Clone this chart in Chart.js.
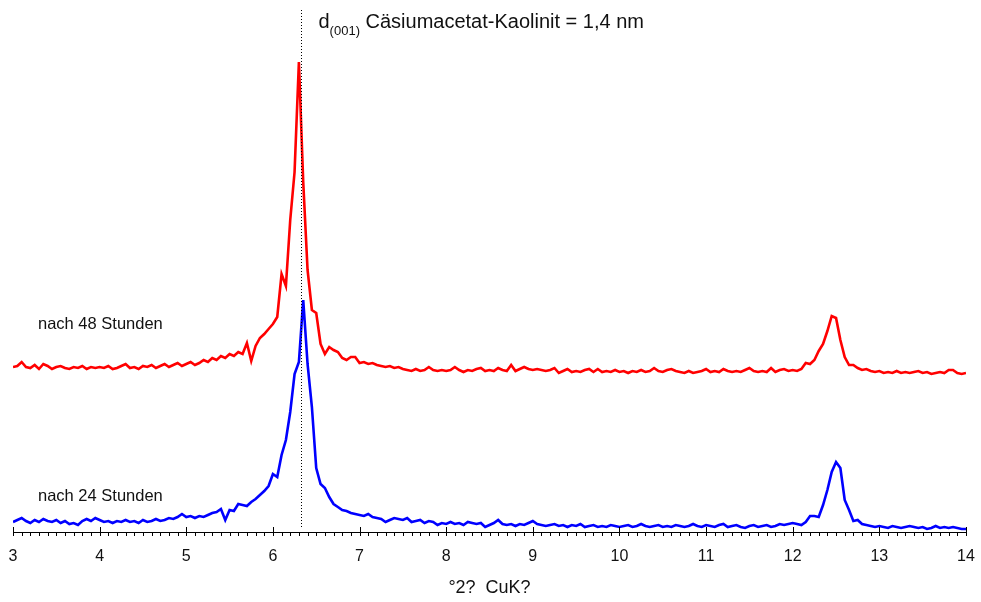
<!DOCTYPE html>
<html lang="de">
<head>
<meta charset="utf-8">
<title>Cäsiumacetat-Kaolinit</title>
<script src="https://cdn.jsdelivr.net/npm/chart.js@4.4.1/dist/chart.umd.min.js"></script>
<style>
  html, body { margin: 0; padding: 0; background: #fff; }
  canvas { display: block; }
</style>
</head>
<body>
<canvas id="xrd" width="981" height="602"></canvas>
<script>
// Messbereich 3-14 °2θ, Schrittweite 0,05
const twoTheta = Array.from({ length: 221 }, (_, i) => Math.round((3 + i * 0.05) * 100) / 100);

// Intensitäten inkl. Versatz, je Zeile ein halbes Grad (10 Schritte)
const after48h = [
  165, 166, 170, 165, 164, 167, 163, 168, 166, 163,
  165, 166, 164, 163, 165, 164, 166, 163, 165, 164,
  165, 164, 166, 163, 164, 166, 168, 164, 165, 163,
  166, 165, 167, 164, 166, 168, 165, 167, 169, 166,
  168, 170, 167, 169, 172, 170, 174, 172, 176, 174,
  178, 176, 180, 178, 189, 171, 186, 194, 198, 203,
  208, 215, 258, 246, 312, 360, 470, 350, 262, 222,
  219, 188, 178, 185, 182, 180, 174, 172, 175, 175,
  169, 170, 168, 169, 167, 166, 165, 166, 164, 165,
  163, 162, 161, 163, 161, 162, 165, 162, 161, 162,
  161, 162, 165, 162, 160, 162, 161, 163, 164, 161,
  162, 161, 164, 162, 161, 167, 161, 163, 165, 163,
  162, 163, 162, 161, 162, 164, 159, 161, 163, 160,
  161, 160, 162, 163, 160, 163, 160, 161, 160, 162,
  160, 161, 159, 161, 160, 162, 160, 161, 164, 161,
  160, 162, 163, 161, 160, 159, 161, 159, 160, 161,
  163, 160, 161, 160, 163, 161, 160, 161, 160, 162,
  164, 161, 160, 161, 160, 164, 160, 162, 163, 161,
  162, 161, 163, 169, 168, 172, 181, 188, 201, 216,
  214, 192, 175, 167, 167, 164, 162, 163, 161, 160,
  161, 159, 160, 159, 161, 159, 160, 159, 160, 161,
  159, 160, 158, 159, 160, 159, 162, 162, 159, 158,
  159
];

const after24h = [
  10, 12, 14, 11, 9, 12, 10, 13, 11, 10,
  12, 9, 11, 8, 9, 7, 11, 13, 11, 14,
  12, 10, 11, 9, 11, 10, 12, 10, 11, 9,
  12, 10, 11, 13, 11, 12, 14, 13, 15, 18,
  15, 16, 14, 16, 15, 17, 19, 20, 23, 12,
  22, 21, 28, 27, 26, 30, 33, 37, 41, 46,
  58, 55, 77, 92, 120, 158, 170, 232, 168, 125,
  64, 48, 44, 35, 28, 25, 22, 21, 19, 18,
  17, 16, 18, 15, 14, 13, 10, 12, 14, 13,
  12, 14, 10, 11, 12, 9, 11, 10, 7, 9,
  8, 10, 8, 9, 7, 10, 9, 8, 9, 5,
  7, 9, 12, 8, 7, 8, 6, 8, 7, 9,
  11, 8, 7, 6, 7, 8, 6, 7, 5, 7,
  6, 8, 5, 6, 7, 5, 6, 5, 7, 6,
  5, 6, 7, 5, 6, 8, 6, 5, 6, 7,
  5, 6, 5, 7, 6, 5, 6, 8, 6, 5,
  7, 6, 5, 7, 8, 5, 6, 7, 5, 4,
  6, 7, 5, 6, 7, 5, 6, 8, 7, 8,
  9, 8, 7, 10, 16, 16, 15, 27, 42, 60,
  70, 64, 32, 22, 11, 12, 8, 7, 6, 5,
  6, 5, 4, 6, 5, 4, 5, 6, 5, 4,
  5, 3, 4, 6, 4, 5, 4, 5, 4, 3,
  3
];

const seriesNames = ["nach 48 Stunden", "nach 24 Stunden"];
const peakPosition = 6.33;
const peakLabel = ["d", "(001)", " Cäsiumacetat-Kaolinit = 1,4 nm"];
const xMin = 3, xMax = 14;

const FONT = "'Liberation Sans', Arial, sans-serif";
Chart.defaults.font.family = FONT;
Chart.defaults.color = "#111";

// Markierung des (001)-Reflexes, Beschriftungen und Teilstriche der x-Achse
const annotations = {
  id: "annotations",
  afterDatasetsDraw(chart) {
    const { ctx } = chart;
    const xs = chart.scales.x, ys = chart.scales.y;
    const px = Math.round(xs.getPixelForValue(peakPosition)) + 0.5;

    ctx.save();
    ctx.strokeStyle = "#000";
    ctx.lineWidth = 1;
    ctx.setLineDash([1, 2]);
    ctx.beginPath();
    ctx.moveTo(px, ys.getPixelForValue(522));
    ctx.lineTo(px, ys.getPixelForValue(5));
    ctx.stroke();
    ctx.setLineDash([]);

    ctx.fillStyle = "#111";
    ctx.textBaseline = "alphabetic";
    let tx = px + 17;
    ctx.font = "20px " + FONT;
    ctx.fillText(peakLabel[0], tx, 28);
    tx += ctx.measureText(peakLabel[0]).width;
    ctx.font = "13px " + FONT;
    ctx.fillText(peakLabel[1], tx, 35);
    tx += ctx.measureText(peakLabel[1]).width;
    ctx.font = "20px " + FONT;
    ctx.fillText(peakLabel[2], tx, 28);

    ctx.font = "16.5px " + FONT;
    ctx.fillText(seriesNames[0], xs.left + 25, ys.getPixelForValue(203));
    ctx.fillText(seriesNames[1], xs.left + 25, ys.getPixelForValue(31));
    ctx.restore();
  },
  afterDraw(chart) {
    const { ctx } = chart;
    const xs = chart.scales.x;
    const y0 = Math.round(chart.chartArea.bottom);
    ctx.save();
    ctx.strokeStyle = "#000";
    ctx.lineWidth = 1;
    ctx.beginPath();
    for (let i = 0; i <= (xMax - xMin) * 10; i++) {
      const x = Math.round(xs.getPixelForValue(xMin + i / 10)) + 0.5;
      const major = i % 10 === 0;
      ctx.moveTo(x, major ? y0 - 5 : y0);
      ctx.lineTo(x, y0 + 4);
    }
    ctx.stroke();
    ctx.restore();
  }
};

new Chart(document.getElementById("xrd"), {
  type: "line",
  data: {
    labels: twoTheta,
    datasets: [
      {
        label: seriesNames[1],
        data: twoTheta.map((t, i) => ({ x: t, y: after24h[i] })),
        borderColor: "#0000ff",
        borderWidth: 2.6,
        pointRadius: 0,
        tension: 0
      },
      {
        label: seriesNames[0],
        data: twoTheta.map((t, i) => ({ x: t, y: after48h[i] })),
        borderColor: "#ff0000",
        borderWidth: 2.6,
        pointRadius: 0,
        tension: 0
      }
    ]
  },
  options: {
    responsive: false,
    animation: false,
    layout: { padding: { left: 13, right: 15, top: 12, bottom: 0 } },
    plugins: {
      legend: { display: false },
      tooltip: { enabled: false }
    },
    scales: {
      x: {
        type: "linear",
        min: xMin,
        max: xMax,
        afterFit(scale) {
          scale.height = 70;
          scale.paddingLeft = 0;
          scale.paddingRight = 0;
        },
        grid: { display: false, drawTicks: false },
        border: { display: true, color: "#000", width: 1 },
        ticks: {
          stepSize: 1,
          padding: 15,
          color: "#111",
          font: { size: 16 }
        },
        title: {
          display: true,
          text: "°2?  CuK?",
          color: "#111",
          font: { size: 18 },
          padding: { top: 13, bottom: 3 }
        }
      },
      y: {
        display: false,
        min: 0,
        max: 520
      }
    }
  },
  plugins: [annotations]
});
</script>
</body>
</html>
